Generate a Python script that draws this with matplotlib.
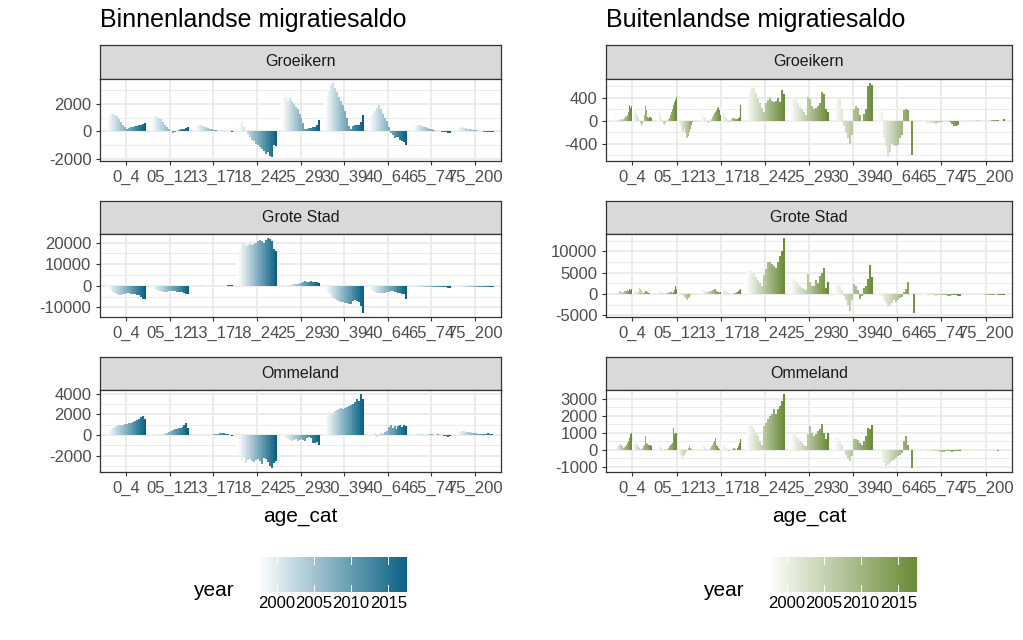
import numpy as np
import matplotlib.pyplot as plt
from matplotlib.colors import LinearSegmentedColormap, Normalize

plt.rcParams['font.family'] = ['Liberation Sans', 'DejaVu Sans']

W, H = 1023, 640

age_cats = ['0_4', '05_12', '13_17', '18_24', '25_29', '30_39', '40_64', '65_74', '75_200']
years = list(range(1998, 2018))
facets = ['Groeikern', 'Grote Stad', 'Ommeland']

# binnenlands migratiesaldo, 20 jaren per leeftijdscategorie
binnen_groeikern = [
    [1000, 1150, 1250, 1300, 1200, 1100, 900, 650, 450, 350, 200, 250, 300, 350, 380, 400, 450, 480, 550, 620],
    [850, 1000, 1100, 1050, 950, 900, 700, 500, 300, 150, 0, -100, -50, 50, 100, 150, 150, 200, 250, 300],
    [300, 400, 450, 450, 420, 350, 300, 250, 200, 150, 100, 80, 60, 50, 40, 30, 20, 10, 0, -20],
    [200, 450, 650, 300, 0, -200, -400, -600, -700, -900, -1000, -1150, -1300, -1450, -1650, -1550, -1800, -1900, -1000, -1100],
    [2200, 2700, 2500, 2250, 2450, 2200, 2000, 1800, 1600, 1300, 1000, 600, 200, 200, 250, 250, 300, 350, 450, 800],
    [2300, 2600, 3000, 3400, 3560, 3200, 2900, 2500, 2200, 1900, 1500, 1000, 400, 200, 400, 450, 450, 500, 650, 1200],
    [800, 1100, 1300, 1500, 1700, 1900, 1650, 1300, 1000, 750, 300, -100, -300, -500, -400, -450, -600, -700, -800, -1000],
    [300, 400, 450, 480, 450, 400, 350, 300, 250, 200, 150, 100, 50, 30, 0, -30, -50, -80, -100, -100],
    [150, 200, 250, 300, 280, 250, 200, 150, 120, 100, 80, 50, 30, 0, -20, -30, -40, -50, -60, -60],
]
binnen_grotestad = [
    [-500, -1200, -2000, -2800, -3500, -4000, -4300, -4200, -4000, -3800, -3500, -3500, -3600, -3800, -4000, -4200, -4500, -5000, -5900, -6300],
    [-300, -800, -1300, -1800, -2200, -2500, -2700, -2800, -2700, -2600, -2500, -2500, -2600, -2700, -2800, -2900, -3000, -3200, -3600, -3900],
    [100, 150, 200, 200, 150, 100, 50, 0, -50, -100, -100, -150, -100, -50, 0, 50, 100, 150, 200, 250],
    [13000, 17500, 19500, 20000, 18500, 19000, 19500, 19000, 19200, 19800, 20500, 21000, 20500, 20000, 21000, 22200, 21500, 20500, 17000, 16300],
    [-200, -300, -200, 0, 200, 400, 600, 800, 1000, 1300, 1500, 1800, 2000, 1900, 1800, 2000, 1900, 1700, 1800, 1500],
    [-1500, -2500, -3500, -4500, -5500, -6000, -6500, -7000, -7500, -7500, -8000, -8000, -8500, -8500, -7000, -6500, -7000, -7500, -9500, -12700],
    [-1500, -2000, -2500, -3000, -3200, -3500, -3500, -3400, -3200, -3000, -2800, -2500, -2500, -2800, -3000, -3200, -3500, -3800, -4000, -6300],
    [-200, -300, -400, -500, -500, -600, -600, -600, -500, -500, -500, -500, -600, -600, -700, -700, -800, -800, -900, -900],
    [-300, -400, -500, -600, -600, -600, -500, -500, -500, -500, -500, -600, -600, -700, -700, -700, -800, -800, -800, -800],
]
binnen_ommeland = [
    [200, 300, 500, 700, 800, 900, 950, 1000, 1000, 1050, 1100, 1150, 1200, 1300, 1400, 1500, 1600, 1750, 1860, 1600],
    [100, 150, 150, 100, 50, 0, 50, 100, 200, 300, 400, 500, 600, 600, 650, 700, 800, 1000, 1200, 700],
    [50, 80, 100, 80, 50, 30, 0, 0, 20, 50, 100, 150, 150, 200, 200, 200, 150, 100, 50, -100],
    [-1200, -2000, -2400, -2200, -2700, -2400, -2300, -2500, -2600, -2400, -2300, -2500, -2800, -2200, -2300, -2600, -3000, -3200, -2700, -2500],
    [-100, -200, -300, -400, -500, -600, -500, -400, -600, -500, -400, -500, -600, -300, -200, -300, -800, -800, -700, -1000],
    [1800, 2000, 2200, 2100, 2000, 2300, 2400, 2500, 2600, 2500, 2600, 2700, 2800, 2900, 3000, 3200, 3500, 3300, 4000, 3500],
    [200, 300, 100, 200, -200, -100, 200, 100, 300, 400, 800, 1000, 700, 900, 600, 900, 1000, 800, 1000, 900],
    [100, 150, 200, 150, 100, 100, 50, 50, 50, 100, 100, 50, 50, 100, 50, 0, -100, -50, -200, -100],
    [200, 300, 350, 400, 400, 350, 300, 300, 250, 200, 200, 150, 150, 100, 100, 150, 200, 150, 100, 50],
]

# buitenlands migratiesaldo; sommige categorieen hebben twee reeksen van 20 jaren
buiten_groeikern = [
    [280, 150, 30, 0, 10, 0, 10, 20, 30, 10, 20, 50, 80, 60, 100, 150, 200, 270, 220, 260,
     220, 200, 150, 200, 120, 80, 20, 0, -50, -90, -60, 0, 100, 250, 180, 60, 40, 60, 60, 50],
    [270, 220, 150, 80, 20, -20, -60, -80, -40, -20, 0, 20, 50, 100, 150, 200, 280, 330, 360, 410,
     -20, -40, -60, -100, -150, -180, -200, -150, -220, -280, -300, -270, -200, -150, -80, -40, -20, 0, 0, 0],
    [200, 150, 100, 60, 40, 0, -30, -50, -20, 0, 30, 60, 100, 130, 150, 180, 220, 240, 180, 100,
     220, 200, 150, 100, 60, 30, 0, -30, -20, 0, 20, 40, 50, 40, 30, 20, 30, 40, 60, 280],
    [250, 400, 520, 580, 560, 480, 400, 300, 220, 150, 300, 360, 390, 340, 320, 350, 390, 330, 540, 470],
    [300, 400, 410, 380, 300, 240, 200, 150, 100, 410, 380, 250, 200, 220, 250, 300, 490, 470, 200, 150],
    [0, 300, 400, 380, 200, -100, -200, -300, -410, -250, 200, 250, 220, 100, 0, 120, 200, 600, 660, 620],
    [0, 250, 150, -300, -450, -640, -550, -400, -430, -450, -420, -300, -250, 180, 200, 190, 0, -600, 0, 0],
    [-40, -50, -50, -60, -50, -40, -50, -60, -50, -30, -20, -10, 0, 0, -20, -60, -90, -100, -80, -10],
    [-10, -10, -5, 0, 5, 10, 5, 0, -5, -10, -10, -5, 0, 5, 10, 10, 5, 0, -5, 20],
]
buiten_grotestad = [
    [1000, 600, 300, 200, 300, 500, 700, 600, 400, 300, 500, 600, 700, 800, 900, 800, 1000, 1100, 1000, 1200,
     1000, 900, 800, 700, 500, 400, 500, 1500, 1200, 600, 300, 200, 400, 600, 700, 500, 300, 200, 100, 100],
    [1000, 900, 700, 500, 400, 300, 200, 100, 100, 200, 300, 300, 400, 500, 400, 300, 400, 1000, 1800, 1200,
     -200, -300, -400, -300, -200, -300, -500, -800, -1000, -1200, -1300, -1000, -600, -300, -100, 0, 0, 0, 0, 0],
    [1500, 1200, 900, 700, 600, 500, 400, 500, 600, 700, 800, 900, 1000, 1100, 1200, 800, 500, 400, 300, 400,
     1400, 1200, 1000, 800, 600, 500, 300, 200, 100, 50, 0, -50, 100, 200, 300, 400, 500, 600, 1000, 1300],
    [4000, 5700, 5600, 5400, 4800, 4000, 3300, 2600, 2000, 4500, 5800, 7500, 7600, 7000, 6500, 6000, 7500, 9000, 10200, 13200],
    [2000, 3800, 3500, 3000, 2500, 2000, 1500, 1200, 1000, 4700, 2800, 2000, 1800, 3300, 2500, 4200, 5000, 6200, 1500, 2900],
    [800, 3200, 2500, 1800, 1000, -500, -1500, -2500, -4000, -1500, 2400, 1800, 1000, -1200, -500, 1500, 2000, 3500, 6800, 4000],
    [500, 1000, -500, -1500, -2200, -3100, -2500, -2000, -1500, -1800, -1500, -1000, -800, 500, 1200, 2800, 100, 0, -4500, 0],
    [-150, -250, -320, -380, -300, -220, -280, -350, -310, -240, -200, -260, -330, -400, -350, -280, -240, -300, -420, -360],
    [-50, -80, -100, -60, -40, -30, -50, -70, -90, -120, -150, -200, -180, -150, -120, -100, -160, -200, -250, -220],
]
buiten_ommeland = [
    [400, 200, 100, 50, 100, 200, 300, 350, 300, 200, 100, 150, 200, 300, 400, 500, 600, 700, 900, 1000,
     500, 400, 300, 350, 400, 300, 200, 100, 50, 0, 100, 200, 300, 800, 400, 350, 300, 300, 250, 200],
    [400, 350, 300, 200, 100, 0, -50, -80, -50, 0, 50, 100, 200, 300, 350, 400, 1300, 900, 1000, 1000,
     -50, -100, -200, -300, -400, -500, -400, -300, -200, -100, 0, 100, 200, 100, 50, 0, 0, 0, 0, 0],
    [400, 350, 300, 200, 100, 50, 0, -50, 0, 100, 200, 300, 400, 500, 700, 300, 200, 100, 50, 0,
     500, 400, 300, 200, 100, 0, -50, -100, -100, -50, 0, 50, 100, 100, 50, 0, 100, 200, 400, 600],
    [800, 1300, 1500, 1400, 1200, 1000, 800, 500, 300, 1400, 1600, 1800, 2000, 2100, 2400, 2100, 2400, 2600, 2900, 3300],
    [500, 900, 1000, 800, 700, 500, 400, 300, 200, 900, 1400, 1000, 800, 900, 1100, 1200, 1500, 1000, 600, 1000],
    [200, 800, 700, 500, 300, 0, -300, -500, -700, -400, 600, 650, 550, 400, 300, 500, 800, 1300, 1200, 1450],
    [0, 100, -500, -800, -1100, -900, -800, -700, -600, -500, -400, -300, -200, 500, 800, 300, 0, -1100, 0, 0],
    [-50, -80, -100, -120, -100, -80, -60, -80, -100, -120, -140, -120, -100, -80, -100, -120, -100, -80, -60, -80],
    [-20, -30, -40, -30, -20, -10, -20, -30, -40, -50, -40, -30, -20, -30, -40, -50, -60, -50, -40, -30],
]

ticks_binnen = [[-2000, 0, 2000], [-10000, 0, 10000, 20000], [-2000, 0, 2000, 4000]]
ticks_buiten = [[-400, 0, 400], [-5000, 0, 5000, 10000], [-1000, 0, 1000, 2000, 3000]]

blue = LinearSegmentedColormap.from_list('blauw', ['#ffffff', '#0b6384'])
green = LinearSegmentedColormap.from_list('groen', ['#ffffff', '#6a8b37'])
norm = Normalize(min(years), max(years))

fig = plt.figure(figsize=(W / 100, H / 100), dpi=100)


def box(x0, y0, x1, y1):
    return [x0 / W, 1 - y1 / H, (x1 - x0) / W, (y1 - y0) / H]


strips = [(45, 79), (201, 234), (357, 390)]
panels = [(79, 161), (234, 317), (390, 472)]
grey20 = '#333333'


def facet(x0, x1, k, groups, ticks, cmap):
    st = fig.add_axes(box(x0, strips[k][0], x1, strips[k][1]))
    st.set_facecolor('#d9d9d9')
    st.set_xticks([]); st.set_yticks([])
    for s in st.spines.values():
        s.set_color(grey20); s.set_linewidth(0.9)
    st.text(0.5, 0.5, facets[k], ha='center', va='center', fontsize=11.5,
            color='#1a1a1a', transform=st.transAxes)

    ax = fig.add_axes(box(x0, panels[k][0], x1, panels[k][1]))
    allv = [v for g in groups for v in g] + [0]
    lo, hi = min(allv), max(allv)
    pad = 0.05 * (hi - lo)
    ax.set_ylim(lo - pad, hi + pad)
    ax.set_xlim(-0.6, len(age_cats) - 0.4)

    # grid
    step = ticks[1] - ticks[0]
    minor = [t + step / 2 for t in [ticks[0] - step] + ticks]
    for m in minor:
        if lo - pad < m < hi + pad:
            ax.axhline(m, color='#ebebeb', lw=0.7, zorder=0)
    for t in ticks:
        ax.axhline(t, color='#ebebeb', lw=1.3, zorder=0)
    for xi in range(len(age_cats)):
        ax.axvline(xi, color='#ebebeb', lw=1.3, zorder=0)

    for xi, vals in enumerate(groups):
        n = len(vals)
        w = 0.9 / n
        xs = [xi - 0.45 + (i + 0.5) * w for i in range(n)]
        cols = [cmap(norm(years[i % len(years)])) for i in range(n)]
        ax.bar(xs, vals, width=w, color=cols, linewidth=0, zorder=2)

    ax.set_xticks(range(len(age_cats)))
    ax.set_xticklabels(age_cats)
    ax.set_yticks(ticks)
    ax.set_yticklabels([str(t) for t in ticks])
    ax.tick_params(labelsize=12, colors=grey20, labelcolor='#4d4d4d', length=3.2, width=0.8, pad=3)
    for s in ax.spines.values():
        s.set_color(grey20); s.set_linewidth(0.9)
    ax.set_facecolor('white')
    return ax


def colorbar(x0, cmap):
    cax = fig.add_axes(box(x0, 557, x0 + 149, 592))
    grad = np.linspace(0, 1, 300).reshape(1, -1)
    cax.imshow(grad, aspect='auto', cmap=cmap, extent=(1997.5, 2017.5, 0, 1))
    cax.set_xlim(1997.5, 2017.5)
    cax.set_ylim(0, 1)
    for t in [2000, 2005, 2010, 2015]:
        cax.plot([t, t], [0, 0.2], color='white', lw=0.7)
        cax.plot([t, t], [0.8, 1], color='white', lw=0.7)
    cax.set_xticks([2000, 2005, 2010, 2015])
    cax.tick_params(length=0, labelsize=12, pad=3, labelcolor='black')
    cax.set_yticks([])
    for s in cax.spines.values():
        s.set_visible(False)
    fig.text((x0 - 65) / W, 1 - 590 / H, 'year', fontsize=15, va='center', ha='left')


for k, (groups, ticks) in enumerate(zip([binnen_groeikern, binnen_grotestad, binnen_ommeland], ticks_binnen)):
    facet(100, 501, k, groups, ticks, blue)
for k, (groups, ticks) in enumerate(zip([buiten_groeikern, buiten_grotestad, buiten_ommeland], ticks_buiten)):
    facet(606, 1012, k, groups, ticks, green)

fig.text(100 / W, 1 - 20 / H, 'Binnenlandse migratiesaldo', fontsize=18, va='center', ha='left')
fig.text(606 / W, 1 - 20 / H, 'Buitenlandse migratiesaldo', fontsize=18, va='center', ha='left')
fig.text(300 / W, 1 - 516 / H, 'age_cat', fontsize=15, va='center', ha='center')
fig.text(809 / W, 1 - 516 / H, 'age_cat', fontsize=15, va='center', ha='center')

colorbar(258, blue)
colorbar(768, green)

fig.savefig('out.png', dpi=100, facecolor='white')
